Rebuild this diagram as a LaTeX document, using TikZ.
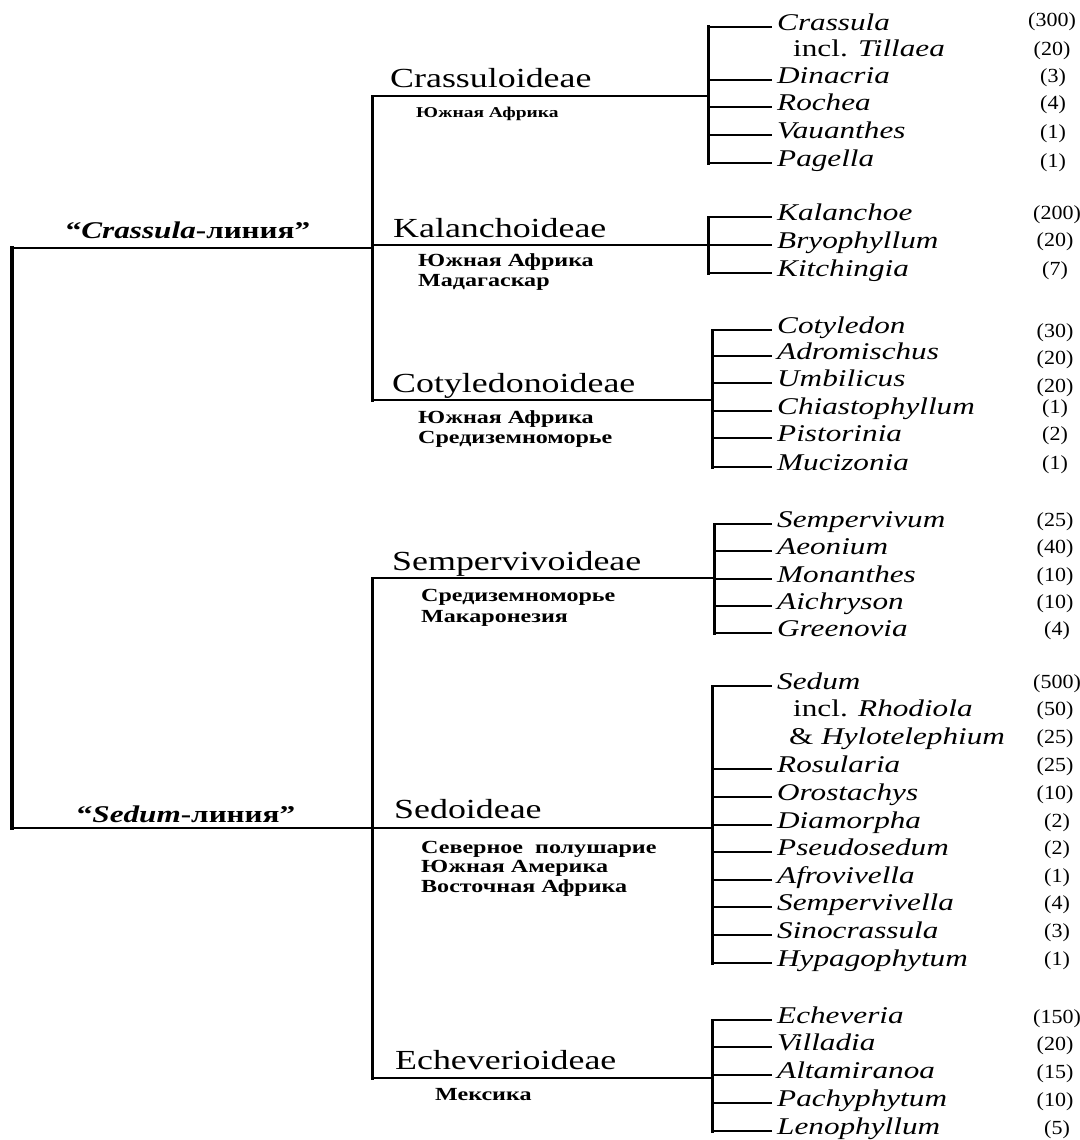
\documentclass[tikz,border=0pt]{standalone}
\usepackage{fontspec}
\setmainfont{Liberation Serif}[FakeStretch=1.3]
\newfontfamily\cntfont{Liberation Serif}[FakeStretch=1.1]
\newcommand\genrow[7]{% id, bracket x, y, text, count, count y, count x
  \coordinate (t#1) at (#2,#3);
  \node[genus] (g#1) at (772,#3) {#4};
  \node[cnt] (c#1) at (#7,#6) {#5};
  \draw[tick] (t#1) -- (g#1.west);}
\newcommand\inclrow[6]{% id, x, y, text, count, count x
  \node[genus, inner xsep=0pt] (g#1) at (#2,#3) {#4};
  \node[cnt] (c#1) at (#6,#3) {#5};}
\begin{document}
\begin{tikzpicture}[x=1pt,y=-1pt,
  subfam/.style={font=\fontsize{27.6}{30}\selectfont, anchor=base west, inner sep=0pt},
  region/.style={font=\fontsize{18.5}{21}\selectfont\bfseries, anchor=base west, inner sep=0pt},
  smallregion/.style={region, font=\fontsize{15}{18}\selectfont\bfseries},
  genus/.style={font=\fontsize{24}{27}\selectfont\itshape, anchor=west, inner xsep=5pt, inner ysep=0pt, text height=0.66em, text depth=0pt},
  cnt/.style={font=\fontsize{20}{23}\cntfont, anchor=center, inner sep=0pt, text height=0.72em, text depth=0.22em},
  lab/.style={font=\fontsize{24}{28}\selectfont\bfseries, anchor=base, inner sep=0pt},
  rootline/.style={line width=3.2pt, line cap=rect},
  mainline/.style={line width=2.4pt},
  vert/.style={line width=3pt, line cap=rect},
  sfline/.style={line width=2.2pt},
  thinline/.style={line width=1.6pt},
  bracket/.style={line width=3pt, line cap=rect},
  tick/.style={line width=1.7pt}]
\useasboundingbox (0,0) rectangle (1079,1140);
% tree skeleton
\coordinate (R1) at (12,248);
\coordinate (R2) at (12,828);
\coordinate (U) at (372,248);
\coordinate (J1) at (372,96);
\coordinate (J2) at (372,245);
\coordinate (J3) at (372,400);
\coordinate (L1) at (372,578);
\coordinate (L2) at (372,828);
\coordinate (L3) at (372,1078);
\coordinate (B1) at (708,96);
\coordinate (B2) at (708,245);
\coordinate (B3) at (712,400);
\coordinate (B4) at (714,578);
\coordinate (B5) at (712,828);
\coordinate (B6) at (712,1078);
\draw[rootline] (R1) -- (R2);
\draw[mainline] (R1) -- (U);
\draw[mainline] (R2) -- (L2);
\draw[vert] (J1) -- (J3);
\draw[vert] (L1) -- (L3);
\draw[sfline] (J1) -- (B1);
\draw[thinline] (J2) -- (B2);
\draw[sfline] (J3) -- (B3);
\draw[sfline] (L1) -- (B4);
\draw[sfline] (L2) -- (B5);
\draw[sfline] (L3) -- (B6);
% lineage labels
\node[lab] (lcr) at (188,238) {“\textit{Crassula}-линия”};
\node[lab] (lse) at (186,822) {“\textit{Sedum}-линия”};
% subfamilies
\node[subfam] (sf1) at (390,88) {Crassuloideae};
\node[smallregion] (r1a) at (416,117) {Южная Африка};
\node[subfam] (sf2) at (393,237) {Kalanchoideae};
\node[region] (r2a) at (418,266) {Южная Африка};
\node[region] (r2b) at (418,286) {Мадагаскар};
\node[subfam] (sf3) at (392,392) {Cotyledonoideae};
\node[region] (r3a) at (418,423) {Южная Африка};
\node[region] (r3b) at (418,443) {Средиземноморье};
\node[subfam] (sf4) at (392,570) {Sempervivoideae};
\node[region] (r4a) at (421,601) {Средиземноморье};
\node[region] (r4b) at (421,622) {Макаронезия};
\node[subfam] (sf5) at (394,818) {Sedoideae};
\node[region] (r5a) at (421,853) {Северное\ \ полушарие};
\node[region] (r5b) at (421,872) {Южная Америка};
\node[region] (r5c) at (421,892) {Восточная Африка};
\node[subfam] (sf6) at (395,1069) {Echeverioideae};
\node[region] (r6a) at (435,1100) {Мексика};
% Crassuloideae genera
\genrow{crassula}{708}{27}{Crassula}{(300)}{24}{1052}
\inclrow{tillaea}{793}{53}{\upshape incl. \itshape Tillaea}{(20)}{1052}
\genrow{dinacria}{708}{80}{Dinacria}{(3)}{80}{1053}
\genrow{rochea}{708}{107}{Rochea}{(4)}{107}{1053}
\genrow{vauanthes}{708}{135}{Vauanthes}{(1)}{136}{1053}
\genrow{pagella}{708}{163}{Pagella}{(1)}{165}{1053}
\draw[bracket] (tcrassula) -- (tpagella);
% Kalanchoideae genera
\genrow{kalanchoe}{708}{217}{Kalanchoe}{(200)}{217}{1057}
\genrow{bryophyllum}{708}{245}{Bryophyllum}{(20)}{244}{1055}
\genrow{kitchingia}{708}{273}{Kitchingia}{(7)}{273}{1055}
\draw[bracket] (tkalanchoe) -- (tkitchingia);
% Cotyledonoideae genera
\genrow{cotyledon}{712}{330}{Cotyledon}{(30)}{335}{1055}
\genrow{adromischus}{712}{356}{Adromischus}{(20)}{362}{1055}
\genrow{umbilicus}{712}{383}{Umbilicus}{(20)}{390}{1055}
\genrow{chiastophyllum}{712}{411}{Chiastophyllum}{(1)}{411}{1055}
\genrow{pistorinia}{712}{438}{Pistorinia}{(2)}{438}{1055}
\genrow{mucizonia}{712}{467}{Mucizonia}{(1)}{467}{1055}
\draw[bracket] (tcotyledon) -- (tmucizonia);
% Sempervivoideae genera
\genrow{sempervivum}{714}{524}{Sempervivum}{(25)}{524}{1055}
\genrow{aeonium}{714}{551}{Aeonium}{(40)}{551}{1055}
\genrow{monanthes}{714}{579}{Monanthes}{(10)}{579}{1055}
\genrow{aichryson}{714}{606}{Aichryson}{(10)}{606}{1055}
\genrow{greenovia}{714}{633}{Greenovia}{(4)}{633}{1057}
\draw[bracket] (tsempervivum) -- (tgreenovia);
% Sedoideae genera
\genrow{sedum}{712}{686}{Sedum}{(500)}{686}{1057}
\inclrow{rhodiola}{793}{713}{\upshape incl. \itshape Rhodiola}{(50)}{1055}
\inclrow{hylotelephium}{789}{741}{\upshape \& \itshape Hylotelephium}{(25)}{1055}
\genrow{rosularia}{712}{769}{Rosularia}{(25)}{769}{1055}
\genrow{orostachys}{712}{797}{Orostachys}{(10)}{797}{1055}
\genrow{diamorpha}{712}{825}{Diamorpha}{(2)}{825}{1057}
\genrow{pseudosedum}{712}{852}{Pseudosedum}{(2)}{852}{1057}
\genrow{afrovivella}{712}{880}{Afrovivella}{(1)}{880}{1057}
\genrow{sempervivella}{712}{907}{Sempervivella}{(4)}{907}{1057}
\genrow{sinocrassula}{712}{935}{Sinocrassula}{(3)}{935}{1057}
\genrow{hypagophytum}{712}{963}{Hypagophytum}{(1)}{963}{1057}
\draw[bracket] (tsedum) -- (thypagophytum);
% Echeverioideae genera
\genrow{echeveria}{712}{1020}{Echeveria}{(150)}{1021}{1057}
\genrow{villadia}{712}{1047}{Villadia}{(20)}{1048}{1055}
\genrow{altamiranoa}{712}{1075}{Altamiranoa}{(15)}{1076}{1055}
\genrow{pachyphytum}{712}{1103}{Pachyphytum}{(10)}{1104}{1055}
\genrow{lenophyllum}{712}{1131}{Lenophyllum}{(5)}{1132}{1057}
\draw[bracket] (techeveria) -- (tlenophyllum);
\end{tikzpicture}
\end{document}
